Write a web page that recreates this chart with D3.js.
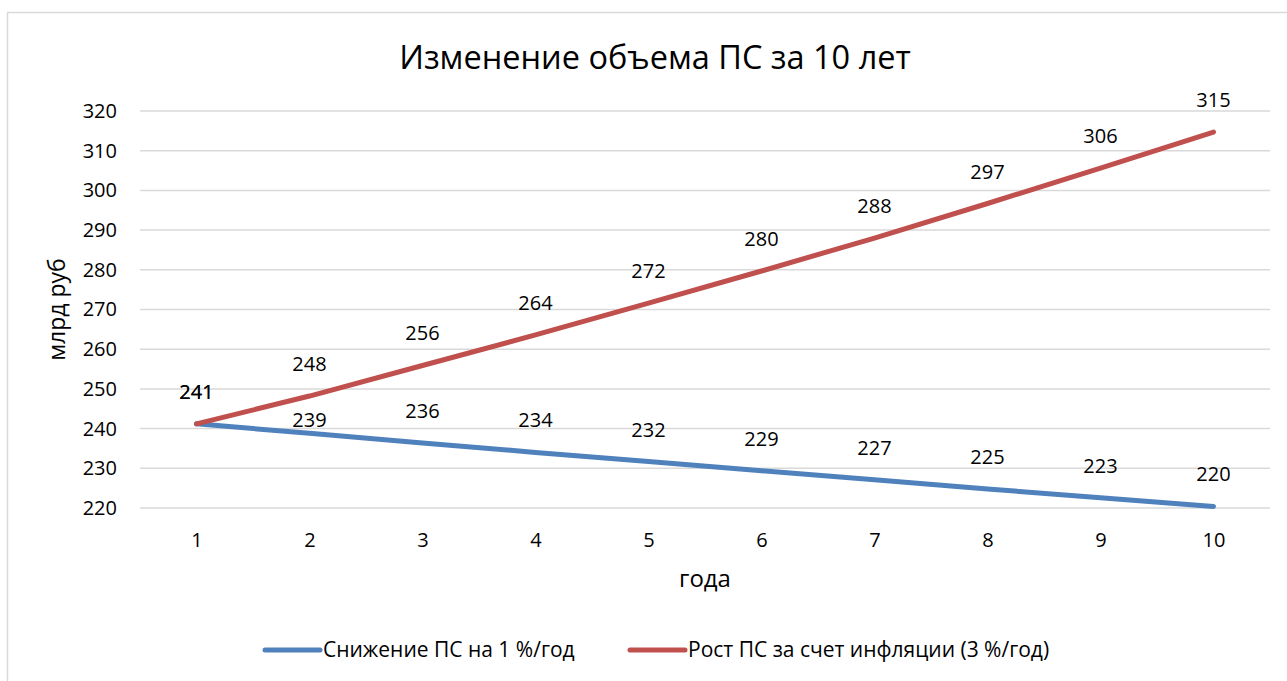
<!DOCTYPE html>
<html>
<head>
<meta charset="utf-8">
<script src="https://cdn.jsdelivr.net/npm/d3@7"></script>
<style>
  body { margin: 0; background: #fff; }
  text { font-family: "Open Sans", "Noto Sans", sans-serif; fill: #000; }
</style>
</head>
<body>
<div id="chart"></div>
<script>
// 1: DATA (labels show rounded values)
const years = [1, 2, 3, 4, 5, 6, 7, 8, 9, 10];
const decline = [241.2, 238.8, 236.4, 234.0, 231.7, 229.4, 227.1, 224.8, 222.6, 220.4]; // Снижение ПС на 1 %/год
const growth = [241.2, 248.2, 255.9, 263.6, 271.6, 279.7, 288.0, 296.7, 305.6, 314.7];  // Рост ПС за счет инфляции (3 %/год)
const yTicks = [220, 230, 240, 250, 260, 270, 280, 290, 300, 310, 320];
const seriesNames = ["Снижение ПС на 1 %/год", "Рост ПС за счет инфляции (3 %/год)"];
const seriesColors = ["#4f81bd", "#c0504d"];

// 2: GLOBAL SIZES
const W = 1287, H = 681;
const margin = { top: 111, right: 17, bottom: 173, left: 140 };
const width = W - margin.left - margin.right;
const height = H - margin.top - margin.bottom;

const svg = d3.select("#chart")
    .append("svg")
    .attr("width", W)
    .attr("height", H);

// chart frame (only left & top edges fall inside the picture)
svg.append("rect")
    .attr("x", 7.5)
    .attr("y", 12.5)
    .attr("width", W + 20)
    .attr("height", H + 20)
    .attr("fill", "none")
    .attr("stroke", "#d9d9d9")
    .attr("stroke-width", 1.5);

const g = svg.append("g")
    .attr("transform", `translate(${margin.left},${margin.top})`);

// 3: SCALES
const x = d3.scalePoint()
    .domain(years)
    .range([0, width])
    .padding(0.5);

const y = d3.scaleLinear()
    .domain([220, 320])
    .range([height, 0]);

// 4: GRID + AXES
g.append("g")
    .selectAll("line")
    .data(yTicks)
    .join("line")
    .attr("x1", 0)
    .attr("x2", width)
    .attr("y1", d => y(d))
    .attr("y2", d => y(d))
    .attr("stroke", "#d9d9d9")
    .attr("stroke-width", 1.5);

const yAxis = g.append("g")
    .call(d3.axisLeft(y).tickValues(yTicks).tickSize(0).tickPadding(23));
yAxis.select(".domain").remove();
yAxis.selectAll("text")
    .style("font-size", "20px")
    .style("font-family", "'Open Sans', sans-serif")
    .attr("fill", "#000");

const xAxis = g.append("g")
    .attr("transform", `translate(0,${height})`)
    .call(d3.axisBottom(x).tickSize(0).tickPadding(25));
xAxis.select(".domain").remove();
xAxis.selectAll("text")
    .style("font-size", "20px")
    .style("font-family", "'Open Sans', sans-serif")
    .attr("fill", "#000");

// 5: LINES
const line = d3.line()
    .x((d, i) => x(years[i]))
    .y(d => y(d));

[decline, growth].forEach((vals, k) => {
    g.append("path")
        .datum(vals)
        .attr("d", line)
        .attr("fill", "none")
        .attr("stroke", seriesColors[k])
        .attr("stroke-width", 5)
        .attr("stroke-linecap", "round")
        .attr("stroke-linejoin", "round");
});

// data labels (above points)
[decline, growth].forEach((vals, k) => {
    g.append("g")
        .selectAll("text")
        .data(vals)
        .join("text")
        .attr("x", (d, i) => x(years[i]))
        .attr("y", (d, i) => y(d) - (k === 0 && i === 1 ? 6 : 25))
        .attr("text-anchor", "middle")
        .style("font-size", "20px")
        .text(d => d3.format(".0f")(d));
});

// 6: LABELS
svg.append("text")
    .attr("x", 655)
    .attr("y", 69)
    .attr("text-anchor", "middle")
    .style("font-size", "32.5px")
    .text("Изменение объема ПС за 10 лет");

g.append("text")
    .attr("x", width / 2)
    .attr("y", height + 79)
    .attr("text-anchor", "middle")
    .style("font-size", "24px")
    .text("года");

g.append("text")
    .attr("transform", "rotate(-90)")
    .attr("x", -height / 2)
    .attr("y", -75)
    .attr("text-anchor", "middle")
    .style("font-size", "23px")
    .text("млрд руб");

// legend
const legend = svg.append("g");
const legendX = [265, 630];
seriesNames.forEach((name, k) => {
    legend.append("line")
        .attr("x1", legendX[k])
        .attr("x2", legendX[k] + 55)
        .attr("y1", 650)
        .attr("y2", 650)
        .attr("stroke", seriesColors[k])
        .attr("stroke-width", 5)
        .attr("stroke-linecap", "round");
    legend.append("text")
        .attr("x", legendX[k] + 58)
        .attr("y", 657)
        .style("font-size", "21px")
        .text(name);
});
</script>
</body>
</html>
